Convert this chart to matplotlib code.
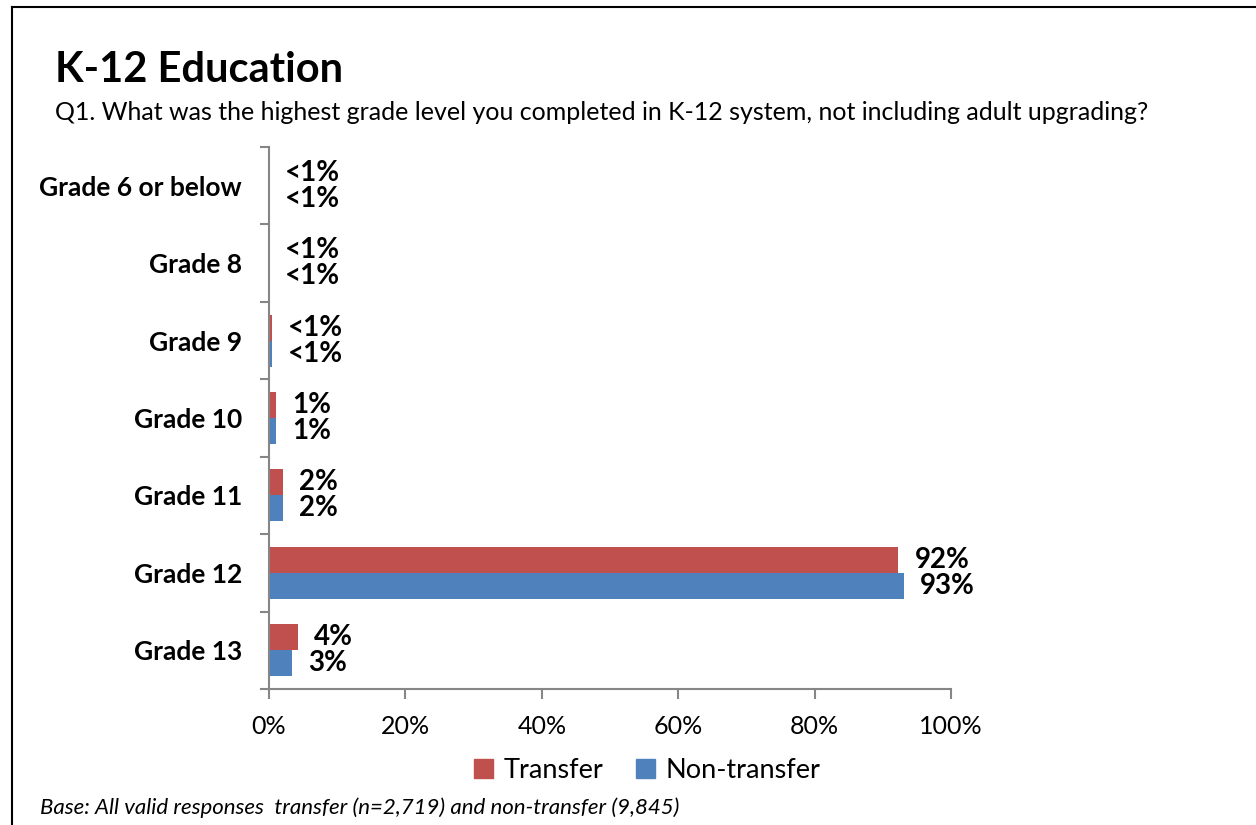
import numpy as np
import matplotlib.pyplot as plt
from matplotlib.lines import Line2D
from matplotlib.patches import Patch

plt.rcParams['font.family'] = ['Lato', 'DejaVu Sans']

categories = ['Grade 6 or below', 'Grade 8', 'Grade 9', 'Grade 10',
              'Grade 11', 'Grade 12', 'Grade 13']
transfer = [0.0, 0.0, 0.4, 1.0, 2.0, 92.3, 4.3]
non_transfer = [0.0, 0.0, 0.4, 1.0, 2.0, 93.1, 3.4]
transfer_labels = ['<1%', '<1%', '<1%', '1%', '2%', '92%', '4%']
non_transfer_labels = ['<1%', '<1%', '<1%', '1%', '2%', '93%', '3%']
xticks = [0, 20, 40, 60, 80, 100]

red = '#C0504D'
blue = '#4F81BD'
axis_grey = '#868686'

fig = plt.figure(figsize=(12.56, 8.25), dpi=100)
ax = fig.add_axes([269/1256, 1 - 689/825, 682/1256, 542/825])

y = np.arange(len(categories))
h = 0.336
ax.barh(y - h/2, transfer, height=h, color=red, label='Transfer')
ax.barh(y + h/2, non_transfer, height=h, color=blue, label='Non-transfer')

for i in range(len(categories)):
    ax.annotate(transfer_labels[i], (transfer[i], y[i] - h/2), xytext=(11.5, 0),
                textcoords='offset points', va='center', ha='left',
                fontsize=20, fontweight='bold')
    ax.annotate(non_transfer_labels[i], (non_transfer[i], y[i] + h/2), xytext=(11.5, 0),
                textcoords='offset points', va='center', ha='left',
                fontsize=20, fontweight='bold')

ax.set_xlim(0, 100)
ax.set_ylim(len(categories) - 0.5, -0.5)
ax.set_xticks(xticks)
ax.set_xticklabels([f'{t}%' for t in xticks], fontsize=18)
ax.set_yticks(y)
ax.set_yticklabels(categories, fontsize=19, fontweight='bold')
ax.tick_params(axis='y', length=0, pad=19.5)
ax.tick_params(axis='x', length=7, color=axis_grey, width=1.5, pad=12)

# category separators on the y axis
for b in np.arange(-0.5, len(categories) + 0.5, 1):
    ax.plot([-0.011, 0], [b, b], color=axis_grey, lw=1.5, clip_on=False,
            transform=ax.get_yaxis_transform())

for s in ['top', 'right']:
    ax.spines[s].set_visible(False)
for s in ['left', 'bottom']:
    ax.spines[s].set_color(axis_grey)
    ax.spines[s].set_linewidth(1.5)

handles = [Patch(color=red), Patch(color=blue)]
fig.legend(handles, ['Transfer', 'Non-transfer'], loc='center',
           bbox_to_anchor=(647/1256, 1 - 770/825), ncol=2, frameon=False,
           fontsize=19.5, handlelength=0.7, handleheight=0.7, handletextpad=0.4,
           columnspacing=1.2)

fig.text(55/1256, 1 - 70/825, 'K-12 Education', fontsize=30, fontweight='bold',
         va='center', ha='left')
fig.text(55/1256, 1 - 112/825,
         'Q1. What was the highest grade level you completed in K-12 system, not including adult upgrading?',
         fontsize=18, va='center', ha='left')
fig.text(40/1256, 1 - 808/825,
         'Base: All valid responses  transfer (n=2,719) and non-transfer (9,845)',
         fontsize=16, style='italic', va='center', ha='left')

# outer frame
fig.add_artist(Line2D([12/1256, 12/1256], [0, 1 - 7/825], color='black', lw=1.5))
fig.add_artist(Line2D([12/1256, 1], [1 - 7/825, 1 - 7/825], color='black', lw=1.5))

fig.savefig('out.png', dpi=100)
